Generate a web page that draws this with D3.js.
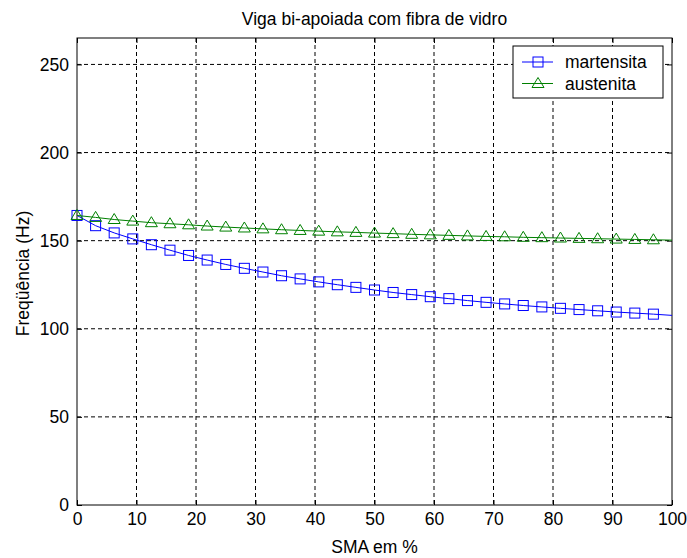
<!DOCTYPE html>
<html>
<head>
<meta charset="utf-8">
<script src="https://cdn.jsdelivr.net/npm/d3@7"></script>
<style>
    body { margin: 0; background: #fff; }
    svg text { font-family: "Liberation Sans", Arial, sans-serif; fill: #000; }
</style>
</head>
<body>
<svg id="grafico"></svg>
<script>
// percentual de SMA (eixo x)
const sma = [0, 3.125, 6.25, 9.375, 12.5, 15.625, 18.75, 21.875, 25, 28.125, 31.25,
    34.375, 37.5, 40.625, 43.75, 46.875, 50, 53.125, 56.25, 59.375, 62.5, 65.625,
    68.75, 71.875, 75, 78.125, 81.25, 84.375, 87.5, 90.625, 93.75, 96.875, 100];

// frequência (Hz)
const martensita = [164.3, 158.5, 154.4, 151.0, 147.7, 144.6, 141.6, 139.0, 136.5, 134.3, 132.2,
    130.1, 128.3, 126.6, 125.0, 123.5, 122.0, 120.6, 119.4, 118.2, 117.1, 116.0,
    115.0, 114.1, 113.2, 112.4, 111.6, 110.9, 110.2, 109.5, 108.9, 108.3, 107.6];
const austenita = [164.3, 163.2, 162.0, 161.1, 160.2, 159.6, 159.0, 158.3, 157.7, 157.2, 156.7,
    156.2, 155.8, 155.4, 155.0, 154.7, 154.3, 154.0, 153.6, 153.3, 153.0, 152.7,
    152.4, 152.2, 151.9, 151.7, 151.5, 151.3, 151.1, 150.9, 150.7, 150.5, 150.3];

const xTicks = [0, 10, 20, 30, 40, 50, 60, 70, 80, 90, 100];
const yTicks = [0, 50, 100, 150, 200, 250];

const width = 687, height = 558;
const mLeft = 77, mRight = 672, mTop = 38, mBottom = 505;

const svg = d3.select("#grafico")
    .attr("width", width)
    .attr("height", height);

const x = d3.scaleLinear().domain([0, 100]).range([mLeft, mRight]);
const y = d3.scaleLinear().domain([0, 265]).range([mBottom, mTop]);

// grade pontilhada
svg.append("g").selectAll("line")
    .data(xTicks.slice(1, -1))
    .enter().append("line")
    .attr("x1", d => x(d)).attr("x2", d => x(d))
    .attr("y1", mTop).attr("y2", mBottom)
    .attr("stroke", "#000").attr("stroke-dasharray", "4,3");

svg.append("g").selectAll("line")
    .data(yTicks.slice(1))
    .enter().append("line")
    .attr("x1", mLeft).attr("x2", mRight)
    .attr("y1", d => y(d)).attr("y2", d => y(d))
    .attr("stroke", "#000").attr("stroke-dasharray", "4,3");

// eixos (ticks para dentro)
svg.append("g")
    .attr("transform", `translate(0, ${mBottom})`)
    .call(d3.axisBottom(x).tickValues(xTicks).tickSize(-5).tickPadding(8));
svg.append("g")
    .attr("transform", `translate(${mLeft}, 0)`)
    .call(d3.axisLeft(y).tickValues(yTicks).tickSize(-5).tickPadding(8));
svg.append("g")
    .attr("transform", `translate(0, ${mTop})`)
    .call(d3.axisTop(x).tickValues(xTicks).tickSize(-5).tickFormat(""));
svg.append("g")
    .attr("transform", `translate(${mRight}, 0)`)
    .call(d3.axisRight(y).tickValues(yTicks).tickSize(-5).tickFormat(""));

svg.selectAll(".domain").remove();
svg.selectAll(".tick line").attr("stroke", "#000");
svg.selectAll(".tick text").style("font-size", "17.5px");

svg.append("rect")
    .attr("x", mLeft).attr("y", mTop)
    .attr("width", mRight - mLeft).attr("height", mBottom - mTop)
    .attr("fill", "none").attr("stroke", "#000");

// séries
const series = [
    { nome: "martensita", valores: martensita, cor: "#0000ff", marcador: "quadrado" },
    { nome: "austenita", valores: austenita, cor: "#008000", marcador: "triangulo" }
];

const linha = d3.line()
    .x((d, i) => x(sma[i]))
    .y(d => y(d));

function marcador(g, tipo, cor) {
    if (tipo === "quadrado") {
        g.append("rect")
            .attr("x", -5).attr("y", -5).attr("width", 10).attr("height", 10)
            .attr("fill", "none").attr("stroke", cor);
    } else {
        g.append("path")
            .attr("d", "M0,-6L6,4L-6,4Z")
            .attr("fill", "none").attr("stroke", cor);
    }
}

series.forEach(s => {
    svg.append("path")
        .datum(s.valores)
        .attr("d", linha)
        .attr("fill", "none")
        .attr("stroke", s.cor);

    svg.append("g").selectAll("g")
        .data(s.valores.slice(0, -1))
        .enter().append("g")
        .attr("transform", (d, i) => `translate(${x(sma[i])}, ${y(d)})`)
        .each(function () { marcador(d3.select(this), s.marcador, s.cor); });
});

// legenda
const leg = svg.append("g").attr("transform", "translate(513, 46)");
leg.append("rect")
    .attr("width", 150).attr("height", 52)
    .attr("fill", "#fff").attr("stroke", "#000");
series.forEach((s, i) => {
    const row = leg.append("g").attr("transform", `translate(0, ${16 + i * 21.5})`);
    row.append("line")
        .attr("x1", 9).attr("x2", 40)
        .attr("stroke", s.cor);
    const m = row.append("g").attr("transform", "translate(25, 0)");
    marcador(m, s.marcador, s.cor);
    row.append("text")
        .attr("x", 52).attr("dy", "0.35em")
        .style("font-size", "17.5px")
        .text(s.nome);
});

// títulos
svg.append("text")
    .attr("x", (mLeft + mRight) / 2).attr("y", 25)
    .attr("text-anchor", "middle")
    .style("font-size", "17.5px")
    .text("Viga bi-apoiada com fibra de vidro");

svg.append("text")
    .attr("x", (mLeft + mRight) / 2).attr("y", 553)
    .attr("text-anchor", "middle")
    .style("font-size", "17.5px")
    .text("SMA em %");

svg.append("text")
    .attr("transform", `translate(29, ${(mTop + mBottom) / 2 + 2}) rotate(-90)`)
    .attr("text-anchor", "middle")
    .style("font-size", "17.5px")
    .text("Freqüência (Hz)");
</script>
</body>
</html>
